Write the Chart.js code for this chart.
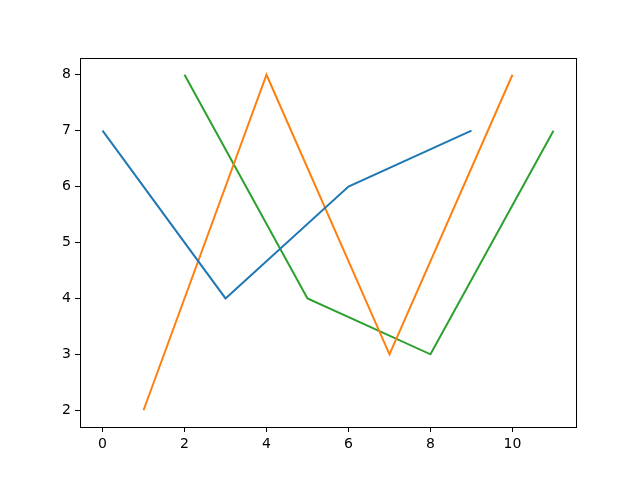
<!DOCTYPE html>
<html>
<head>
<meta charset="utf-8">
<script src="https://cdn.jsdelivr.net/npm/chart.js@4/dist/chart.umd.min.js"></script>
<style>
  body { margin: 0; background: #fff; }
</style>
</head>
<body>
<canvas id="chart" width="640" height="480"></canvas>
<script>
// data
const blueX = [0, 3, 6, 9];
const blueY = [7, 4, 6, 7];
const orangeX = [1, 4, 7, 10];
const orangeY = [2, 8, 3, 8];
const greenX = [2, 5, 8, 11];
const greenY = [8, 4, 3, 7];
const xTicks = [0, 2, 4, 6, 8, 10];
const yTicks = [2, 3, 4, 5, 6, 7, 8];

function pts(xs, ys) {
    return xs.map((x, i) => ({ x: x, y: ys[i] }));
}

// frame around the plot area (all four spines)
const frame = {
    id: 'frame',
    afterDraw(chart) {
        const a = chart.chartArea;
        const c = chart.ctx;
        c.save();
        c.strokeStyle = '#000';
        c.lineWidth = 1;
        c.strokeRect(Math.round(a.left) + 0.5, Math.round(a.top) + 0.5,
            Math.round(a.right - a.left), Math.round(a.bottom - a.top));
        c.restore();
    }
};

function axisOpts(min, max, ticks, size, isX) {
    return {
        type: 'linear',
        min: min,
        max: max,
        afterBuildTicks: s => { s.ticks = ticks.map(v => ({ value: v })); },
        afterFit: s => { if (isX) s.height = size; else s.width = size; },
        grid: {
            display: true,
            drawOnChartArea: false,
            drawTicks: true,
            tickLength: 5,
            color: '#000'
        },
        border: { display: false },
        ticks: {
            color: '#000',
            padding: 4,
            maxRotation: 0,
            autoSkip: false,
            font: { family: 'DejaVu Sans', size: 14 }
        }
    };
}

const line = (xs, ys, color) => ({
    data: pts(xs, ys),
    borderColor: color,
    backgroundColor: color,
    borderWidth: 2,
    pointRadius: 0,
    tension: 0,
    fill: false
});

new Chart(document.getElementById('chart').getContext('2d'), {
    type: 'line',
    data: {
        datasets: [
            line(blueX, blueY, '#1f77b4'),
            line(orangeX, orangeY, '#ff7f0e'),
            line(greenX, greenY, '#2ca02c')
        ]
    },
    options: {
        responsive: false,
        animation: false,
        layout: { padding: { left: 0, right: 64, top: 58, bottom: 0 } },
        plugins: { legend: { display: false }, tooltip: { enabled: false } },
        scales: {
            x: axisOpts(-0.55, 11.55, xTicks, 53, true),
            y: axisOpts(1.7, 8.3, yTicks, 80, false)
        }
    },
    plugins: [frame]
});
</script>
</body>
</html>
